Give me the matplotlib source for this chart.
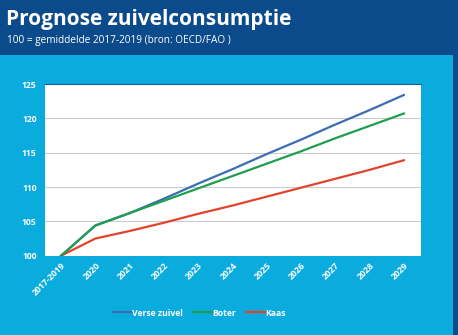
import matplotlib
matplotlib.use("Agg")
import matplotlib.pyplot as plt
from matplotlib.patches import Rectangle

categories = ["2017-2019", "2020", "2021", "2022", "2023", "2024",
              "2025", "2026", "2027", "2028", "2029"]
verse_zuivel = [100, 104.4, 106.2, 108.3, 110.5, 112.6, 114.8, 116.9, 119.1, 121.2, 123.4]
boter = [100, 104.4, 106.2, 108.0, 109.8, 111.6, 113.4, 115.2, 117.1, 118.9, 120.7]
kaas = [100, 102.5, 103.6, 104.8, 106.1, 107.3, 108.6, 109.9, 111.2, 112.5, 113.9]
y_ticks = [100, 105, 110, 115, 120, 125]

DARK = "#0b4b8b"
LIGHT = "#0aabdd"

plt.rcParams['font.family'] = ['Open Sans', 'DejaVu Sans']

fig = plt.figure(figsize=(4.58, 3.35), dpi=100)
fig.patch.set_facecolor(LIGHT)
# header band
fig.add_artist(Rectangle((0, 1 - 55/335), 1, 55/335, transform=fig.transFigure,
                         facecolor=DARK, edgecolor='none', zorder=0))
# right dark strip
fig.add_artist(Rectangle((453/458, 0), 5/458, 1, transform=fig.transFigure,
                         facecolor=DARK, edgecolor='none', zorder=0))

fig.text(6/458, 1 - 20/335, "Prognose zuivelconsumptie", color="white",
         fontsize=15, fontweight="bold", va="center", ha="left")
fig.text(7/458, 1 - 41/335, "100 = gemiddelde 2017-2019 (bron: OECD/FAO )", color="white",
         fontsize=7.2, va="center", ha="left")

ax = fig.add_axes([45/458, 1 - 255.7/335, 376/458, 171.7/335])
ax.set_facecolor("white")
x = list(range(len(categories)))
ax.plot(x, verse_zuivel, color="#3a6db4", lw=1.6, label="Verse zuivel", zorder=3)
ax.plot(x, boter, color="#1f9e4f", lw=1.6, label="Boter", zorder=4)
ax.plot(x, kaas, color="#e2432c", lw=1.6, label="Kaas", zorder=3)

ax.set_xlim(-0.47, 10.5)
ax.set_ylim(100, 125)
ax.set_yticks(y_ticks)
ax.set_yticklabels([str(v) for v in y_ticks], color="white", fontsize=6.2, fontweight="bold")
ax.set_xticks(x)
ax.set_xticklabels(categories, rotation=45, ha="right", rotation_mode="anchor",
                   color="white", fontsize=6.3, fontweight="bold")
ax.tick_params(axis='x', length=0, pad=4)
ax.tick_params(axis='y', length=0, pad=6)
for s in ["left", "right", "bottom"]:
    ax.spines[s].set_visible(False)
ax.spines["top"].set_color("#1a5e8e")
ax.spines["top"].set_linewidth(0.8)
for v in y_ticks[1:-1]:
    ax.axhline(v, color="#c9cdd1", lw=0.8, zorder=1)

leg = fig.legend(loc="center", bbox_to_anchor=(0.435, 1 - 313/335), ncol=3, frameon=False,
                 handlelength=2.2, handletextpad=0.0, columnspacing=1.2,
                 prop={'weight': 'bold', 'size': 6.2})
for t in leg.get_texts():
    t.set_color("white")

fig.savefig("out.png", dpi=100, facecolor=fig.get_facecolor())
